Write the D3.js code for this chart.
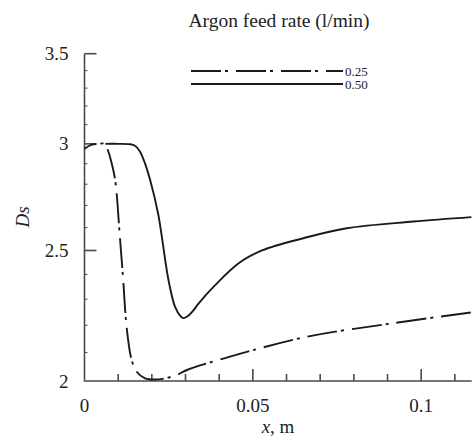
<!DOCTYPE html>
<meta charset="utf-8">
<style>
  body { margin: 0; background: #fff; }
  .tick-label { font: 19px "Liberation Serif", "Times New Roman", serif; fill: #222; }
  .title { font: 19.5px "Liberation Serif", "Times New Roman", serif; fill: #222; text-anchor: middle; }
  .leg-label { font: 13px "Liberation Serif", "Times New Roman", serif; fill: #222; }
  .curve { fill: none; stroke: #1a1a1a; stroke-width: 1.9; }
  .axis-line { stroke: #4a4a4a; stroke-width: 1.6; fill: none; }
</style>
<body>
<svg width="473" height="441"></svg>
<script src="https://cdn.jsdelivr.net/npm/d3@7"></script>
<script>

var seriesNames = ["0.25", "0.50"];

// Argon feed rate 0.25 l/min (dash-dot)
var xLow = [0, 0.002, 0.004, 0.0062, 0.0068, 0.0078, 0.0091, 0.0105, 0.0115, 0.0125, 0.014, 0.0155, 0.018, 0.021, 0.0239, 0.0274, 0.0304, 0.0432, 0.066, 0.0918, 0.1149];
var dsLow = [2.975, 2.995, 3.0, 3.0, 2.975, 2.92, 2.82, 2.56, 2.376, 2.194, 2.073, 2.032, 2.009, 2.005, 2.009, 2.021, 2.038, 2.085, 2.157, 2.208, 2.249];

// Argon feed rate 0.50 l/min (solid)
var xHigh = [0.0062, 0.010, 0.0135, 0.015, 0.0165, 0.018, 0.0195, 0.0219, 0.0249, 0.0269, 0.0285, 0.0294, 0.0305, 0.0323, 0.0338, 0.0388, 0.0457, 0.0527, 0.065, 0.0779, 0.0977, 0.1149];
var dsHigh = [3.0, 3.0, 2.998, 2.99, 2.96, 2.9, 2.82, 2.66, 2.38, 2.27, 2.235, 2.227, 2.233, 2.256, 2.282, 2.356, 2.445, 2.5, 2.553, 2.597, 2.627, 2.647];

var xMajorTicks = [0, 0.05, 0.1];
var xTickLabels = ["0", "0.05", "0.1"];
var xMinorTicks = [0.01, 0.02, 0.03, 0.04, 0.06, 0.07, 0.08, 0.09, 0.11];
var yMajorTicks = [2, 2.5, 3, 3.5];
var yTickLabels = ["2", "2.5", "3", "3.5"];
var yMinorTicks = [2.1, 2.2, 2.3, 2.4, 2.6, 2.7, 2.8, 2.9, 3.1, 3.2, 3.3, 3.4];

var svg = d3.select("svg");

var plotLeft = 84.5, plotRight = 471.7, plotTop = 53.7, plotBottom = 381;

var x = d3.scaleLinear().domain([0, 0.115]).range([plotLeft, plotRight]);
var y = d3.scaleLog().domain([2, 3.5]).range([plotBottom, plotTop]);

// axes lines
svg.append("path")
    .attr("class", "axis-line")
    .attr("d", "M" + x(0) + "," + y(3.5) + "V" + y(2) + "H" + x(0.115));

// y ticks (inside)
svg.selectAll(".ymaj").data(yMajorTicks.slice(1)).enter().append("line")
    .attr("class", "axis-line")
    .attr("x1", x(0)).attr("x2", x(0) + 12)
    .attr("y1", function(d) { return y(d); })
    .attr("y2", function(d) { return y(d); });

svg.selectAll(".ymin").data(yMinorTicks).enter().append("line")
    .attr("class", "axis-line")
    .style("stroke-width", 1)
    .attr("x1", x(0)).attr("x2", x(0) + 3)
    .attr("y1", function(d) { return y(d); })
    .attr("y2", function(d) { return y(d); });

// x ticks (inside)
svg.selectAll(".xmaj").data(xMajorTicks.slice(1)).enter().append("line")
    .attr("class", "axis-line")
    .attr("x1", function(d) { return x(d); })
    .attr("x2", function(d) { return x(d); })
    .attr("y1", y(2)).attr("y2", y(2) - 12);

svg.selectAll(".xmin").data(xMinorTicks).enter().append("line")
    .attr("class", "axis-line")
    .attr("x1", function(d) { return x(d); })
    .attr("x2", function(d) { return x(d); })
    .attr("y1", y(2)).attr("y2", y(2) - 7);

// tick labels
svg.selectAll(".xl").data(xMajorTicks).enter().append("text")
    .attr("class", "tick-label")
    .attr("text-anchor", "middle")
    .attr("x", function(d) { return x(d); })
    .attr("y", 412)
    .text(function(d, i) { return xTickLabels[i]; });

svg.selectAll(".yl").data(yMajorTicks).enter().append("text")
    .attr("class", "tick-label")
    .attr("text-anchor", "end")
    .attr("x", 68.5)
    .attr("y", function(d) { return y(d) + 6.5; })
    .text(function(d, i) { return yTickLabels[i]; });

// axis titles
var xt = svg.append("text")
    .attr("class", "tick-label")
    .attr("text-anchor", "middle")
    .attr("x", 278)
    .attr("y", 433);
xt.append("tspan").style("font-style", "italic").text("x");
xt.append("tspan").text(", m");

svg.append("text")
    .attr("class", "tick-label")
    .attr("text-anchor", "middle")
    .style("font-style", "italic")
    .attr("transform", "translate(29,217) rotate(-90)")
    .text("Ds");

svg.append("text")
    .attr("class", "title")
    .attr("x", 279)
    .attr("y", 27)
    .text("Argon feed rate (l/min)");

// curves
var line = d3.line()
    .x(function(d) { return x(d[0]); })
    .y(function(d) { return y(d[1]); })
    .curve(d3.curveCatmullRom.alpha(0.5));

var dashes = ["30,4,3,8", null];
var series = [d3.zip(xLow, dsLow), d3.zip(xHigh, dsHigh)];

svg.selectAll(".curve").data(series).enter().append("path")
    .attr("class", "curve")
    .attr("d", line)
    .style("stroke-dasharray", function(d, i) { return dashes[i]; })
    .style("stroke-dashoffset", 17);

// legend
var legY = [71, 84];
var leg = svg.selectAll(".leg").data(seriesNames).enter().append("g");
leg.append("line")
    .attr("class", "curve")
    .attr("x1", 191).attr("x2", 343)
    .attr("y1", function(d, i) { return legY[i]; })
    .attr("y2", function(d, i) { return legY[i]; })
    .style("stroke-dasharray", function(d, i) { return dashes[i]; });
leg.append("text")
    .attr("class", "leg-label")
    .attr("x", 345)
    .attr("y", function(d, i) { return legY[i] + 4.5; })
    .text(function(d) { return d; });

</script>
</body>
